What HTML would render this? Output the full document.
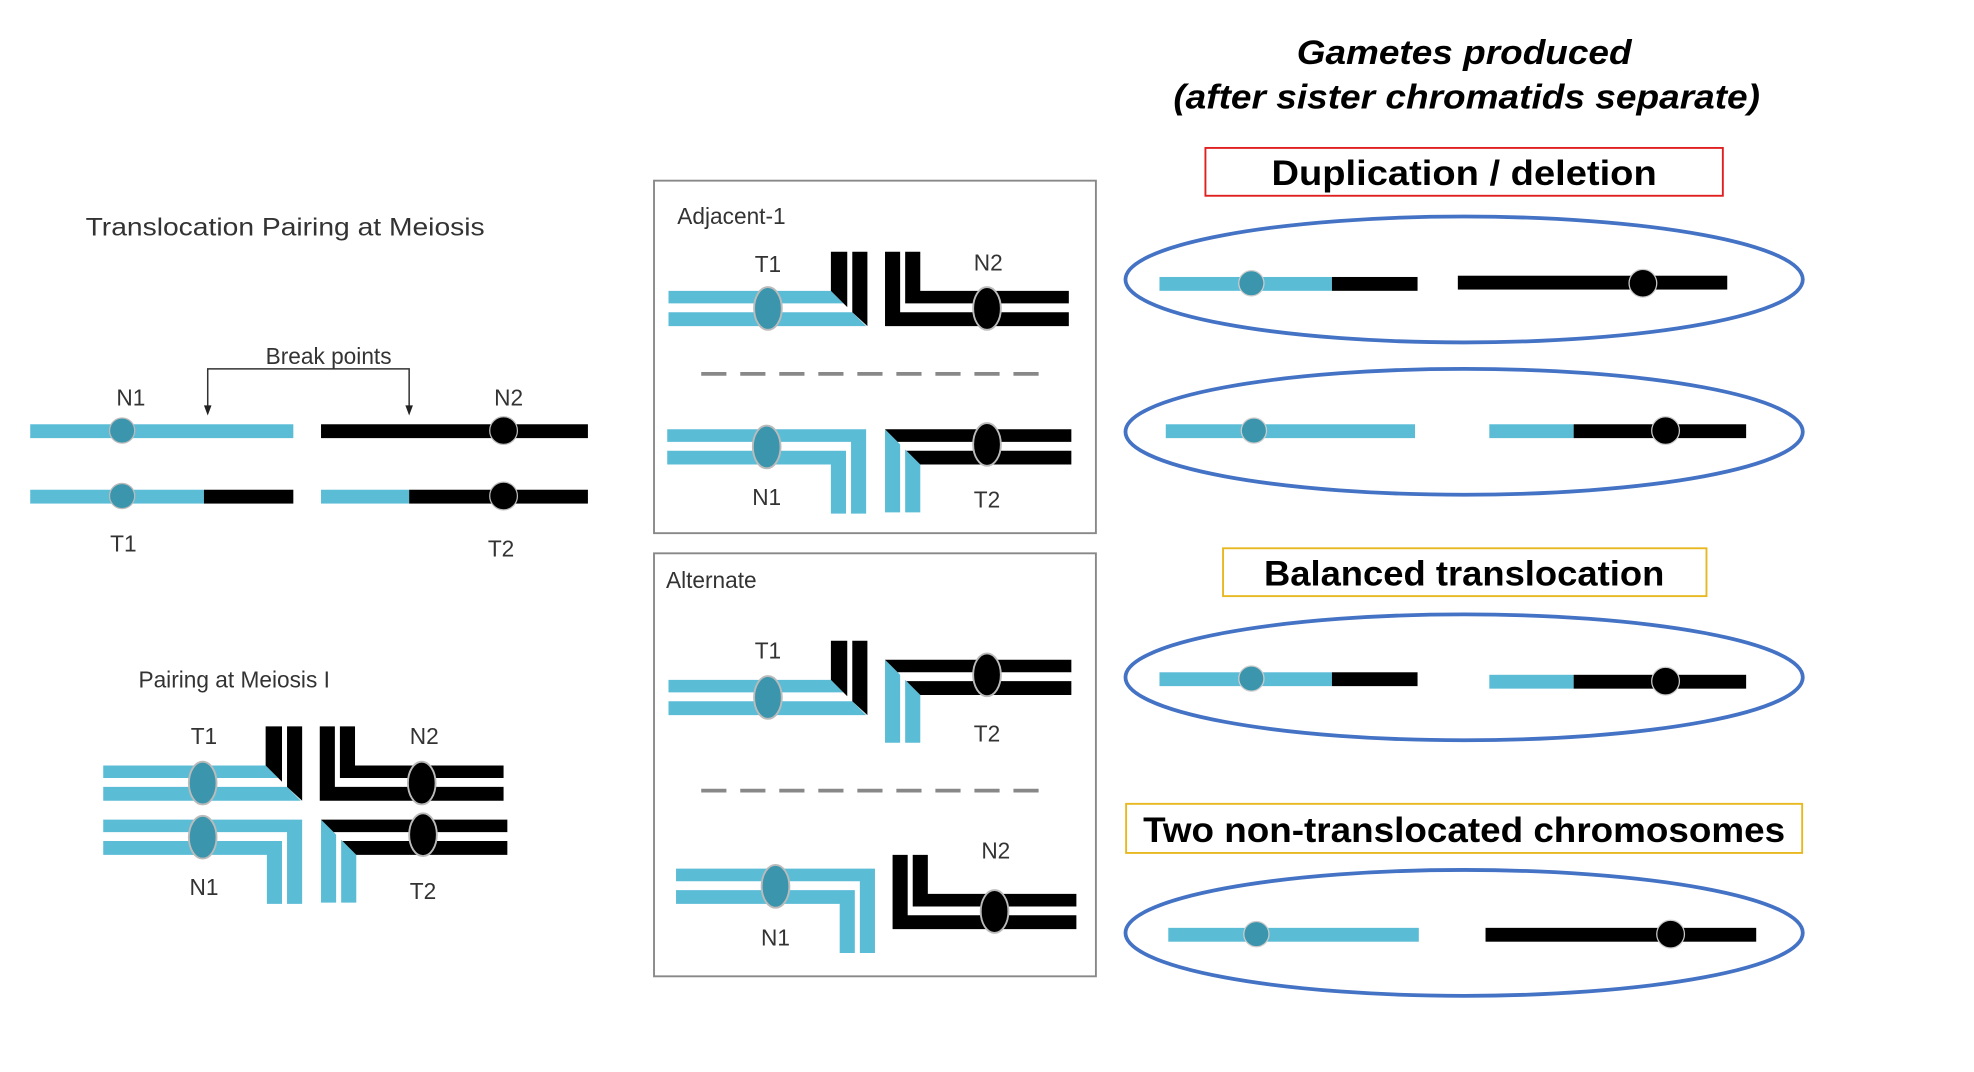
<!DOCTYPE html>
<html><head><meta charset="utf-8"><style>
html,body{margin:0;padding:0;background:#fff;width:1974px;height:1072px;overflow:hidden}
svg{display:block}
text{font-family:"Liberation Sans",sans-serif}
</style></head><body>
<svg width="1974" height="1072" viewBox="0 0 1568 851.5" preserveAspectRatio="none" xmlns="http://www.w3.org/2000/svg">
<defs>
 <g id="qa">
  <polygon points="-158,0 -29,0 -19,10 -158,10" fill="#5bbcd6"/>
  <polygon points="-158,17 -12,17 -1,28 -158,28" fill="#5bbcd6"/>
  <polygon points="-29,-31 -16,-31 -16,13 -29,0" fill="#000"/>
  <polygon points="-12,-31 0,-31 0,28 -12,17" fill="#000"/>
  <ellipse cx="-79" cy="14" rx="11" ry="17" fill="#3a95ad" stroke="#bbb" stroke-width="1.5"/>
 </g>
 <g id="qb">
  <polygon points="0,-31 12,-31 12,17 146,17 146,28 0,28" fill="#000"/>
  <polygon points="16,-31 28,-31 28,0 146,0 146,10 16,10" fill="#000"/>
  <ellipse cx="81" cy="14" rx="11" ry="17" fill="#000" stroke="#bbb" stroke-width="1.5"/>
 </g>
 <g id="qc">
  <polygon points="-158,0 0,0 0,67 -12,67 -12,10 -158,10" fill="#5bbcd6"/>
  <polygon points="-158,17 -16,17 -16,67 -28,67 -28,28 -158,28" fill="#5bbcd6"/>
  <ellipse cx="-79" cy="14" rx="11" ry="17" fill="#3a95ad" stroke="#bbb" stroke-width="1.5"/>
 </g>
 <g id="qd">
  <polygon points="0,0 12,12 12,66 0,66" fill="#5bbcd6"/>
  <polygon points="16,16 28,28 28,66 16,66" fill="#5bbcd6"/>
  <polygon points="0,0 148,0 148,10 10,10" fill="#000"/>
  <polygon points="17,17 148,17 148,28 28,28" fill="#000"/>
  <ellipse cx="81" cy="12" rx="11" ry="17" fill="#000" stroke="#bbb" stroke-width="1.5"/>
 </g>
</defs>

<text x="1163" y="51" font-size="27" font-weight="bold" font-style="italic" text-anchor="middle" fill="#000" textLength="266" lengthAdjust="spacingAndGlyphs">Gametes produced</text>
<text x="1165" y="86" font-size="27" font-weight="bold" font-style="italic" text-anchor="middle" fill="#000" textLength="466" lengthAdjust="spacingAndGlyphs">(after sister chromatids separate)</text>

<text x="68" y="187" font-size="20" fill="#333" textLength="317" lengthAdjust="spacingAndGlyphs">Translocation Pairing at Meiosis</text>

<text x="261" y="289" font-size="18" fill="#333" text-anchor="middle">Break points</text>
<path d="M165,328 V293 H325 V328" fill="none" stroke="#333" stroke-width="1.2"/>
<path d="M162,322 L168,322 L165,330 z M322,322 L328,322 L325,330z" fill="#222"/>
<text x="104" y="322" font-size="18" fill="#333" text-anchor="middle">N1</text>
<text x="404" y="322" font-size="18" fill="#333" text-anchor="middle">N2</text>
<rect x="24" y="337" width="209" height="11" fill="#5bbcd6"/>
<rect x="255" y="337" width="212" height="11" fill="#000"/>
<circle cx="97" cy="342" r="10" fill="#3a95ad" stroke="#bbb"/>
<circle cx="400" cy="342" r="11" fill="#000" stroke="#bbb"/>
<rect x="24" y="389" width="138" height="11" fill="#5bbcd6"/>
<rect x="162" y="389" width="71" height="11" fill="#000"/>
<rect x="255" y="389" width="70" height="11" fill="#5bbcd6"/>
<rect x="325" y="389" width="142" height="11" fill="#000"/>
<circle cx="97" cy="394" r="10" fill="#3a95ad" stroke="#bbb"/>
<circle cx="400" cy="394" r="11" fill="#000" stroke="#bbb"/>
<text x="98" y="438" font-size="18" fill="#333" text-anchor="middle">T1</text>
<text x="398" y="442" font-size="18" fill="#333" text-anchor="middle">T2</text>

<text x="110" y="546" font-size="18" fill="#333">Pairing at Meiosis I</text>
<text x="162" y="591" font-size="18" fill="#333" text-anchor="middle">T1</text>
<text x="337" y="591" font-size="18" fill="#333" text-anchor="middle">N2</text>
<use href="#qa" transform="translate(240,608)"/>
<use href="#qb" transform="translate(254,608)"/>
<use href="#qc" transform="translate(240,651)"/>
<use href="#qd" transform="translate(255,651)"/>
<text x="162" y="711" font-size="18" fill="#333" text-anchor="middle">N1</text>
<text x="336" y="714" font-size="18" fill="#333" text-anchor="middle">T2</text>

<rect x="519.5" y="143.5" width="351" height="280" fill="none" stroke="#888" stroke-width="1.5"/>
<text x="538" y="178" font-size="18" fill="#333">Adjacent-1</text>
<text x="610" y="216" font-size="18" fill="#333" text-anchor="middle">T1</text>
<text x="785" y="215" font-size="18" fill="#333" text-anchor="middle">N2</text>
<use href="#qa" transform="translate(689,231)"/>
<use href="#qb" transform="translate(703,231)"/>
<line x1="557" y1="297" x2="835" y2="297" stroke="#888" stroke-width="3" stroke-dasharray="20,11"/>
<use href="#qc" transform="translate(688,341)"/>
<use href="#qd" transform="translate(703,341)"/>
<text x="609" y="401" font-size="18" fill="#333" text-anchor="middle">N1</text>
<text x="784" y="403" font-size="18" fill="#333" text-anchor="middle">T2</text>

<rect x="519.5" y="439.5" width="351" height="336" fill="none" stroke="#888" stroke-width="1.5"/>
<text x="529" y="467" font-size="18" fill="#333">Alternate</text>
<text x="610" y="523" font-size="18" fill="#333" text-anchor="middle">T1</text>
<use href="#qa" transform="translate(689,540)"/>
<use href="#qd" transform="translate(703,524)"/>
<text x="784" y="589" font-size="18" fill="#333" text-anchor="middle">T2</text>
<line x1="557" y1="628" x2="835" y2="628" stroke="#888" stroke-width="3" stroke-dasharray="20,11"/>
<text x="791" y="682" font-size="18" fill="#333" text-anchor="middle">N2</text>
<use href="#qb" transform="translate(709,710)"/>
<use href="#qc" transform="translate(695,690)"/>
<text x="616" y="751" font-size="18" fill="#333" text-anchor="middle">N1</text>

<rect x="957.5" y="117.5" width="411" height="38" fill="none" stroke="#e02020" stroke-width="1.5"/>
<text x="1163" y="147" font-size="28" font-weight="bold" text-anchor="middle" textLength="306" lengthAdjust="spacingAndGlyphs">Duplication / deletion</text>
<rect x="971.5" y="435.5" width="384" height="38" fill="none" stroke="#e8b820" stroke-width="1.5"/>
<text x="1163" y="465" font-size="28" font-weight="bold" text-anchor="middle" textLength="318" lengthAdjust="spacingAndGlyphs">Balanced translocation</text>
<rect x="894.5" y="638.5" width="537" height="39" fill="none" stroke="#e8b820" stroke-width="1.5"/>
<text x="1163" y="669" font-size="28" font-weight="bold" text-anchor="middle" textLength="510" lengthAdjust="spacingAndGlyphs">Two non-translocated chromosomes</text>

<g fill="none" stroke="#4472c4" stroke-width="3">
 <ellipse cx="1163" cy="222" rx="269" ry="50"/>
 <ellipse cx="1163" cy="343" rx="269" ry="50"/>
 <ellipse cx="1163" cy="538" rx="269" ry="50"/>
 <ellipse cx="1163" cy="741" rx="269" ry="50"/>
</g>
<rect x="921" y="220" width="137" height="11" fill="#5bbcd6"/><rect x="1058" y="220" width="68" height="11" fill="#000"/>
<circle cx="994" cy="225" r="10" fill="#3a95ad" stroke="#ccc"/>
<rect x="1158" y="219" width="214" height="11" fill="#000"/><circle cx="1305" cy="225" r="11" fill="#000" stroke="#ccc"/>
<rect x="926" y="337" width="198" height="11" fill="#5bbcd6"/><circle cx="996" cy="342" r="10" fill="#3a95ad" stroke="#ccc"/>
<rect x="1183" y="337" width="67" height="11" fill="#5bbcd6"/><rect x="1250" y="337" width="137" height="11" fill="#000"/>
<circle cx="1323" cy="342" r="11" fill="#000" stroke="#ccc"/>
<rect x="921" y="534" width="137" height="11" fill="#5bbcd6"/><rect x="1058" y="534" width="68" height="11" fill="#000"/>
<circle cx="994" cy="539" r="10" fill="#3a95ad" stroke="#ccc"/>
<rect x="1183" y="536" width="67" height="11" fill="#5bbcd6"/><rect x="1250" y="536" width="137" height="11" fill="#000"/>
<circle cx="1323" cy="541" r="11" fill="#000" stroke="#ccc"/>
<rect x="928" y="737" width="199" height="11" fill="#5bbcd6"/><circle cx="998" cy="742" r="10" fill="#3a95ad" stroke="#ccc"/>
<rect x="1180" y="737" width="215" height="11" fill="#000"/><circle cx="1327" cy="742" r="11" fill="#000" stroke="#ccc"/>
</svg>
</body></html>
